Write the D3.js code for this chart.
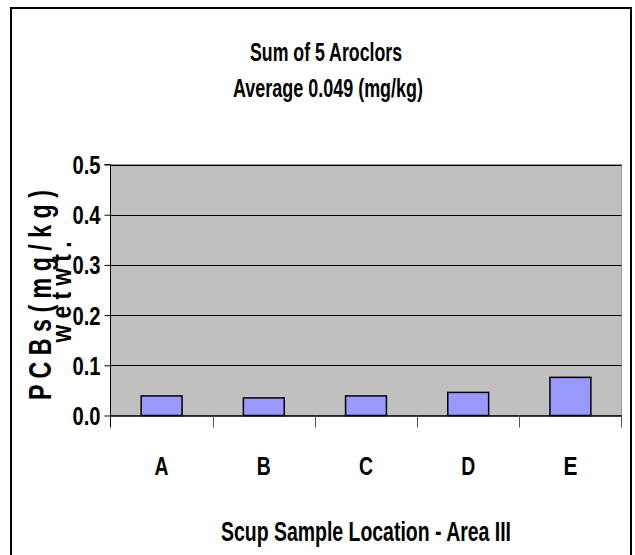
<!DOCTYPE html>
<html><head><meta charset="utf-8">
<script src="https://cdn.jsdelivr.net/npm/d3@7"></script>
<style>body{margin:0;background:#fff;} text{font-family:"Liberation Sans",Arial,sans-serif;font-weight:bold;fill:#000;}</style>
</head><body>
<svg id="c" width="635" height="555"></svg>
<script>
const categories = ["A","B","C","D","E"];
const values = [0.039, 0.035, 0.039, 0.046, 0.076];
const yTicks = [0, 0.1, 0.2, 0.3, 0.4, 0.5];
const yTickLabels = ["0.0","0.1","0.2","0.3","0.4","0.5"];
const titleLines = ["Sum of 5 Aroclors", "Average 0.049 (mg/kg)"];
const xTitle = "Scup Sample Location - Area III";
const yTitle = "P C B s ( m g / k g )";
const yTitle2 = "w e t   w t .";

const svg = d3.select("#c");
const L = 110.5, R = 621.5, T = 164.5, B = 415.5;

svg.append("rect").attr("x",11).attr("y",8).attr("width",620).attr("height",560)
  .attr("fill","none").attr("stroke","#000").attr("stroke-width",2);

const x = d3.scaleBand().domain(categories).range([L, R]).paddingInner(0.6).paddingOuter(0.3);
const xb = d3.scaleBand().domain(categories).range([L, R]);
const y = d3.scaleLinear().domain([0, 0.5]).range([B, T]);

svg.append("rect").attr("x",L).attr("y",T).attr("width",R-L).attr("height",B-T)
  .attr("fill","#c0c0c0").attr("stroke","#9a9a9a").attr("stroke-width",1);

svg.append("g").selectAll("line").data(yTicks.filter(d=>d>0)).join("line")
  .attr("x1",L).attr("x2",R).attr("y1",d=>Math.round(y(d))+0.5).attr("y2",d=>Math.round(y(d))+0.5)
  .attr("stroke","#000").attr("stroke-width",1);

svg.append("g").selectAll("rect").data(values).join("rect")
  .attr("x",(d,i)=>x(categories[i])).attr("width",x.bandwidth())
  .attr("y",d=>y(d)).attr("height",d=>B-y(d))
  .attr("fill","#9999ff").attr("stroke","#000").attr("stroke-width",1.5);

const yAxis = d3.axisLeft(y).tickValues(yTicks).tickSize(6).tickFormat((d,i)=>yTickLabels[i]);
const gy = svg.append("g").attr("transform",`translate(${L},0)`).call(yAxis);
gy.select(".domain").attr("stroke","#000").attr("d",`M-6,${T}H0V${B+12}`);
gy.selectAll(".tick line").attr("stroke","#000");
gy.selectAll(".tick text").attr("font-size",25).attr("x",-10).attr("dy","0.36em")
  .attr("font-family","'Liberation Sans',Arial,sans-serif").attr("font-weight","bold")
  .attr("textLength",28).attr("lengthAdjust","spacingAndGlyphs");

const xAxis = d3.axisBottom(xb).tickSize(0).tickPadding(0);
const gx = svg.append("g").attr("transform",`translate(0,${B})`).call(xAxis);
gx.select(".domain").attr("stroke","#000").attr("stroke-width",1.5);
gx.selectAll(".tick text").attr("font-size",25).attr("y",59).attr("dy",0)
  .attr("font-family","'Liberation Sans',Arial,sans-serif").attr("font-weight","bold")
  .attr("textLength",14).attr("lengthAdjust","spacingAndGlyphs");
svg.append("g").selectAll("line").data(categories.slice(1).concat(["end"])).join("line")
  .attr("x1",(d,i)=> i<4 ? Math.round(xb(d))+0.5 : R).attr("x2",(d,i)=> i<4 ? Math.round(xb(d))+0.5 : R)
  .attr("y1",B).attr("y2",B+12).attr("stroke","#555").attr("stroke-width",1);

svg.append("text").attr("x",326).attr("y",61).attr("text-anchor","middle").attr("font-size",26)
  .attr("textLength",152).attr("lengthAdjust","spacingAndGlyphs").text(titleLines[0]);
svg.append("text").attr("x",328).attr("y",97).attr("text-anchor","middle").attr("font-size",26)
  .attr("textLength",190).attr("lengthAdjust","spacingAndGlyphs").text(titleLines[1]);
svg.append("text").attr("x",366).attr("y",541).attr("text-anchor","middle").attr("font-size",27)
  .attr("textLength",290).attr("lengthAdjust","spacingAndGlyphs").text(xTitle);

svg.append("text").attr("transform","translate(51,295) rotate(-90)").attr("text-anchor","middle")
  .attr("font-size",32).attr("textLength",210).attr("lengthAdjust","spacingAndGlyphs").text(yTitle);
svg.append("text").attr("transform","translate(71,292) rotate(-90)").attr("text-anchor","middle")
  .attr("font-size",27).attr("textLength",101).attr("lengthAdjust","spacingAndGlyphs").text(yTitle2);
</script>
</body></html>
